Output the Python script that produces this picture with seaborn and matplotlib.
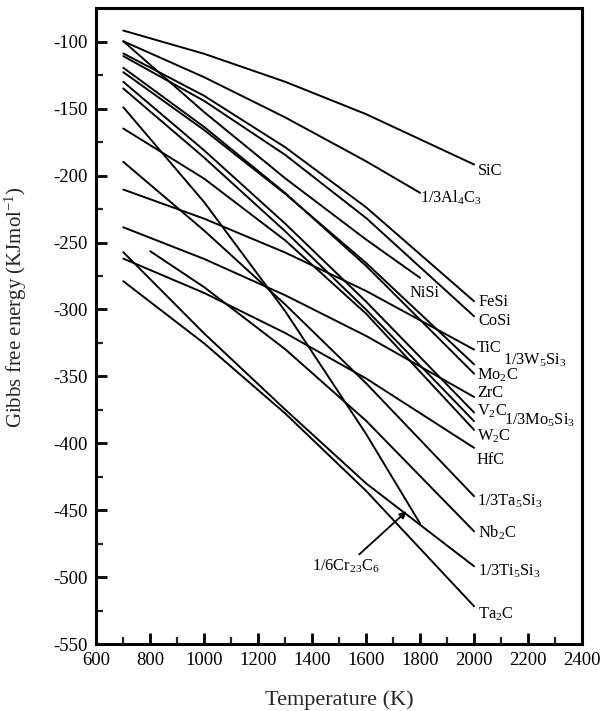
import numpy as np
import pandas as pd
import matplotlib
matplotlib.use("Agg")
import matplotlib.pyplot as plt
import seaborn as sns

# ---------------- data ----------------
T_full = [700, 1000, 1300, 1600, 2000]
T_1800 = [700, 1000, 1300, 1600, 1800]
T_nb2c = [800, 1000, 1300, 1600, 2000]

SiC      = [-91.6, -109.0, -129.9, -154.1, -191.7]
Al4C3    = [-99.6, -126.5, -156.5, -189.3, -212.9]
NiSi     = [-99.6, -152.6, -202.0, -247.8, -276.4]
FeSi     = [-108.7, -140.4, -178.8, -223.7, -293.9]
CoSi     = [-110.7, -144.2, -184.5, -231.7, -305.1]
Mo2C     = [-119.4, -163.7, -213.0, -267.5, -348.0]
W5Si3    = [-122.7, -166.0, -213.6, -265.3, -341.0]
V2C      = [-129.9, -181.2, -235.9, -294.2, -377.0]
Mo5Si3   = [-134.9, -186.6, -241.6, -300.2, -383.5]
Cr23C6   = [-148.9, -219.9, -301.3, -393.1, -460.0]
W2C      = [-164.8, -202.3, -248.4, -303.2, -390.0]
Ta5Si3   = [-189.7, -241.1, -296.3, -355.2, -439.6]
TiC      = [-210.4, -232.2, -257.5, -286.2, -330.0]
ZrC      = [-238.6, -262.3, -289.4, -319.8, -365.4]
Ti5Si3   = [-257.2, -318.0, -374.8, -430.0, -491.9]
HfC      = [-262.0, -287.7, -317.6, -351.6, -403.4]
Nb2C     = [-256.5, -283.4, -329.7, -383.2, -465.8]
Ta2C     = [-278.9, -325.4, -377.7, -435.6, -521.8]

series = {
    "SiC": (T_full, SiC),
    "1/3Al4C3": (T_1800, Al4C3),
    "NiSi": (T_1800, NiSi),
    "FeSi": (T_full, FeSi),
    "CoSi": (T_full, CoSi),
    "Mo2C": (T_full, Mo2C),
    "1/3W5Si3": (T_full, W5Si3),
    "V2C": (T_full, V2C),
    "1/3Mo5Si3": (T_full, Mo5Si3),
    "1/6Cr23C6": (T_1800, Cr23C6),
    "W2C": (T_full, W2C),
    "1/3Ta5Si3": (T_full, Ta5Si3),
    "TiC": (T_full, TiC),
    "ZrC": (T_full, ZrC),
    "1/3Ti5Si3": (T_full, Ti5Si3),
    "HfC": (T_full, HfC),
    "Nb2C": (T_nb2c, Nb2C),
    "Ta2C": (T_full, Ta2C),
}

x_ticks = [600, 800, 1000, 1200, 1400, 1600, 1800, 2000, 2200, 2400]
y_ticks = [-100, -150, -200, -250, -300, -350, -400, -450, -500, -550]

rows = []
for name, (ts, gs) in series.items():
    for t, g in zip(ts, gs):
        rows.append({"compound": name, "T": t, "G": g})
df = pd.DataFrame(rows)

# ---------------- style ----------------
sns.set_theme(style="white")
plt.rcParams["font.family"] = ["Liberation Serif", "DejaVu Serif"]
plt.rcParams["mathtext.fontset"] = "custom"
plt.rcParams["mathtext.rm"] = "Liberation Serif"
plt.rcParams["mathtext.it"] = "Liberation Serif:italic"
plt.rcParams["axes.unicode_minus"] = False

fig = plt.figure(figsize=(6.03, 7.11), dpi=100)
ax = fig.add_axes([0.1597, 0.0942, 0.8055, 0.8941])

sns.lineplot(data=df, x="T", y="G", units="compound", estimator=None,
             color="black", linewidth=1.4, ax=ax, legend=False)

ax.set_xlim(600, 2400)
ax.set_ylim(-550, -75)
ax.set_xticks(x_ticks)
ax.set_yticks(y_ticks)
ax.set_xticks(np.arange(700, 2400, 200), minor=True)
ax.set_yticks(np.arange(-525, -75, 50), minor=True)
ax.tick_params(axis="both", which="major", direction="in", length=8, width=2,
               labelsize=13.5, colors="black", pad=6)
ax.tick_params(axis="both", which="minor", direction="in", length=5, width=1.6)
ax.tick_params(axis="y", which="both", left=True, right=False)
ax.tick_params(axis="x", which="both", bottom=True, top=False)
for sp in ax.spines.values():
    sp.set_linewidth(2.2)
    sp.set_color("black")

ax.set_xlabel("Temperature (K)", fontsize=16)
ax.set_ylabel(r"Gibbs free energy (KJmol$^{\mathregular{-1}}$)", fontsize=15)
ax.xaxis.set_label_coords(0.5, -0.072)
ax.yaxis.set_label_coords(-0.138, 0.53)

# ---------------- curve labels ----------------
labels = [
    ("SiC", 2015, -196.7),
    (r"1/3Al$_\mathregular{4}$C$_\mathregular{3}$", 1800, -216.6),
    ("NiSi", 1762, -287.4),
    ("FeSi", 2015, -294.1),
    ("CoSi", 2015, -308.8),
    ("TiC", 2010, -328.7),
    (r"1/3W$_\mathregular{5}$Si$_\mathregular{3}$", 2108, -338.0),
    (r"Mo$_\mathregular{2}$C", 2010, -349.0),
    ("ZrC", 2010, -362.8),
    (r"V$_\mathregular{2}$C", 2010, -376.0),
    (r"1/3Mo$_\mathregular{5}$Si$_\mathregular{3}$", 2112, -382.5),
    (r"W$_\mathregular{2}$C", 2010, -395.0),
    ("HfC", 2010, -412.2),
    (r"1/3Ta$_\mathregular{5}$Si$_\mathregular{3}$", 2010, -443.3),
    (r"Nb$_\mathregular{2}$C", 2015, -467.0),
    (r"1/3Ti$_\mathregular{5}$Si$_\mathregular{3}$", 2015, -495.7),
    (r"Ta$_\mathregular{2}$C", 2015, -528.0),
]
for txt, x, y in labels:
    ax.text(x, y, txt, fontsize=11.8, ha="left", va="center", color="black")

ax.annotate(r"1/6Cr$_\mathregular{23}$C$_\mathregular{6}$", xy=(1750, -450.8), xytext=(1400, -492),
            fontsize=11.8, ha="left", va="center", color="black",
            arrowprops=dict(arrowstyle="-|>", color="black", lw=1.3,
                            shrinkA=0, shrinkB=0, mutation_scale=10))

fig.savefig("out.png", dpi=100)
